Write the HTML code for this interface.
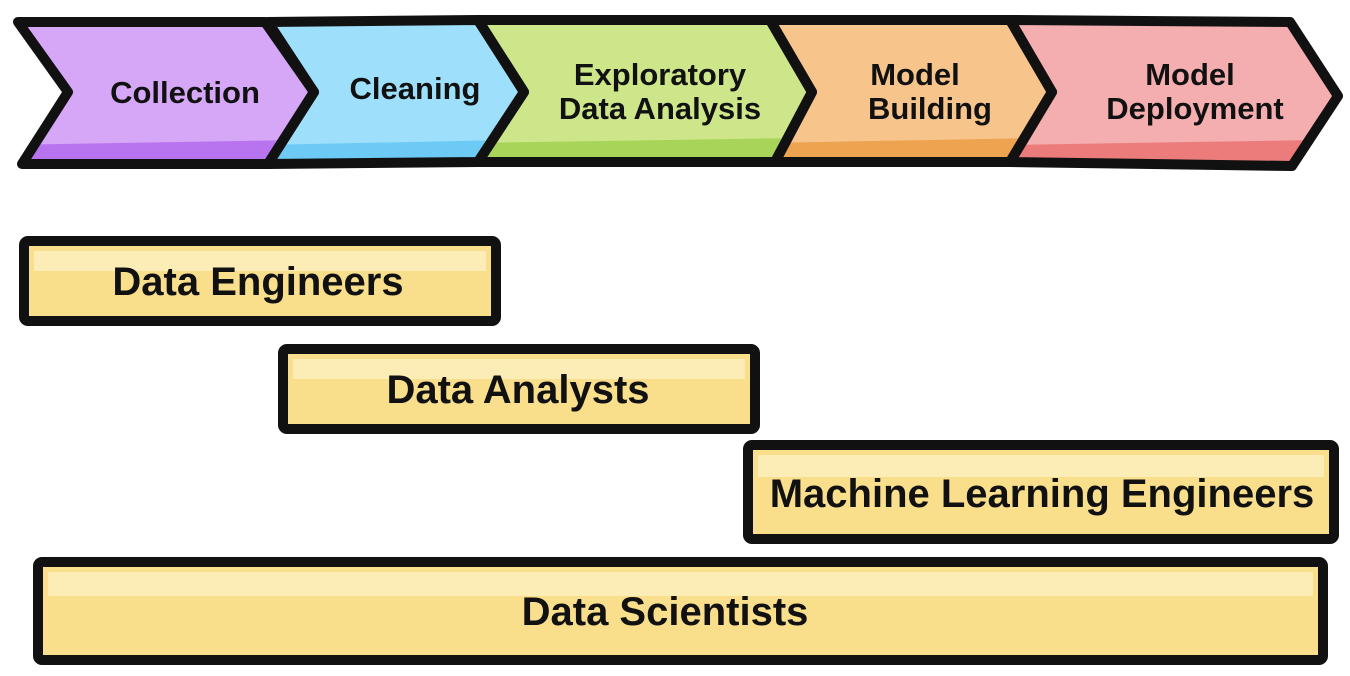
<!DOCTYPE html>
<html><head><meta charset="utf-8"><style>
html,body{margin:0;padding:0;background:#fff;width:1350px;height:676px;overflow:hidden}
svg text{font-family:"Liberation Sans",sans-serif;font-weight:bold;fill:#111;text-anchor:middle}
</style></head><body>
<svg width="1350" height="676" viewBox="0 0 1350 676">
<defs>
<clipPath id="c1"><polygon points="18,22 265,22 314,92 268,164 22,164 68,92"/></clipPath>
<clipPath id="c2"><polygon points="268,22 478,20 524,92 478,162 268,164 314,92"/></clipPath>
<clipPath id="c3"><polygon points="478,20 770,20 812,92 775,162 478,162 524,92"/></clipPath>
<clipPath id="c4"><polygon points="770,20 1010,20 1052,92 1010,162 775,162 812,92"/></clipPath>
<clipPath id="c5"><polygon points="1010,20 1290,22 1338,96 1292,166 1010,162 1052,92"/></clipPath>
</defs>
<g>
<polygon points="18,22 265,22 314,92 268,164 22,164 68,92" fill="#d6a6f7"/>
<polygon points="268,22 478,20 524,92 478,162 268,164 314,92" fill="#9ee0fb"/>
<polygon points="478,20 770,20 812,92 775,162 478,162 524,92" fill="#cde68a"/>
<polygon points="770,20 1010,20 1052,92 1010,162 775,162 812,92" fill="#f7c58c"/>
<polygon points="1010,20 1290,22 1338,96 1292,166 1010,162 1052,92" fill="#f4aeb0"/>
<polygon clip-path="url(#c1)" points="0,145 300,140 320,90 400,90 400,200 0,200" fill="#b874ef"/>
<polygon clip-path="url(#c2)" points="260,145 510,140 530,90 600,90 600,200 260,200" fill="#6ccaf5"/>
<polygon clip-path="url(#c3)" points="470,143 795,138 815,90 900,90 900,200 470,200" fill="#a9d45a"/>
<polygon clip-path="url(#c4)" points="765,143 1035,138 1055,90 1100,90 1100,200 765,200" fill="#eea350"/>
<polygon clip-path="url(#c5)" points="1005,145 1320,140 1340,90 1400,90 1400,200 1005,200" fill="#ec7c7c"/>
</g>
<g stroke="#111" stroke-width="10" stroke-linejoin="round" fill="none">
<polygon points="18,22 265,22 314,92 268,164 22,164 68,92"/>
<polygon points="268,22 478,20 524,92 478,162 268,164 314,92"/>
<polygon points="478,20 770,20 812,92 775,162 478,162 524,92"/>
<polygon points="770,20 1010,20 1052,92 1010,162 775,162 812,92"/>
<polygon points="1010,20 1290,22 1338,96 1292,166 1010,162 1052,92"/>
</g>
<g font-size="31">
<text x="185" y="103">Collection</text>
<text x="415" y="99">Cleaning</text>
<text x="660" y="85">Exploratory</text>
<text x="660" y="119">Data Analysis</text>
<text x="915" y="85">Model</text>
<text x="930" y="119">Building</text>
<text x="1190" y="85">Model</text>
<text x="1195" y="119">Deployment</text>
</g>
<g stroke="#111" stroke-width="10" fill="#f9df8c">
<rect x="24" y="241" width="472" height="80" rx="4"/>
<rect x="283" y="349" width="472" height="80" rx="4"/>
<rect x="748" y="445" width="586" height="94" rx="4"/>
<rect x="38" y="562" width="1285" height="98" rx="4"/>
</g>
<g fill="#fcedb6">
<rect x="34" y="251" width="452" height="20"/>
<rect x="293" y="359" width="452" height="20"/>
<rect x="758" y="455" width="566" height="22"/>
<rect x="48" y="572" width="1265" height="24"/>
</g>
<g font-size="40">
<text x="258" y="295">Data Engineers</text>
<text x="518" y="403">Data Analysts</text>
<text x="1042" y="507">Machine Learning Engineers</text>
<text x="665" y="625">Data Scientists</text>
</g>
</svg>
</body></html>
